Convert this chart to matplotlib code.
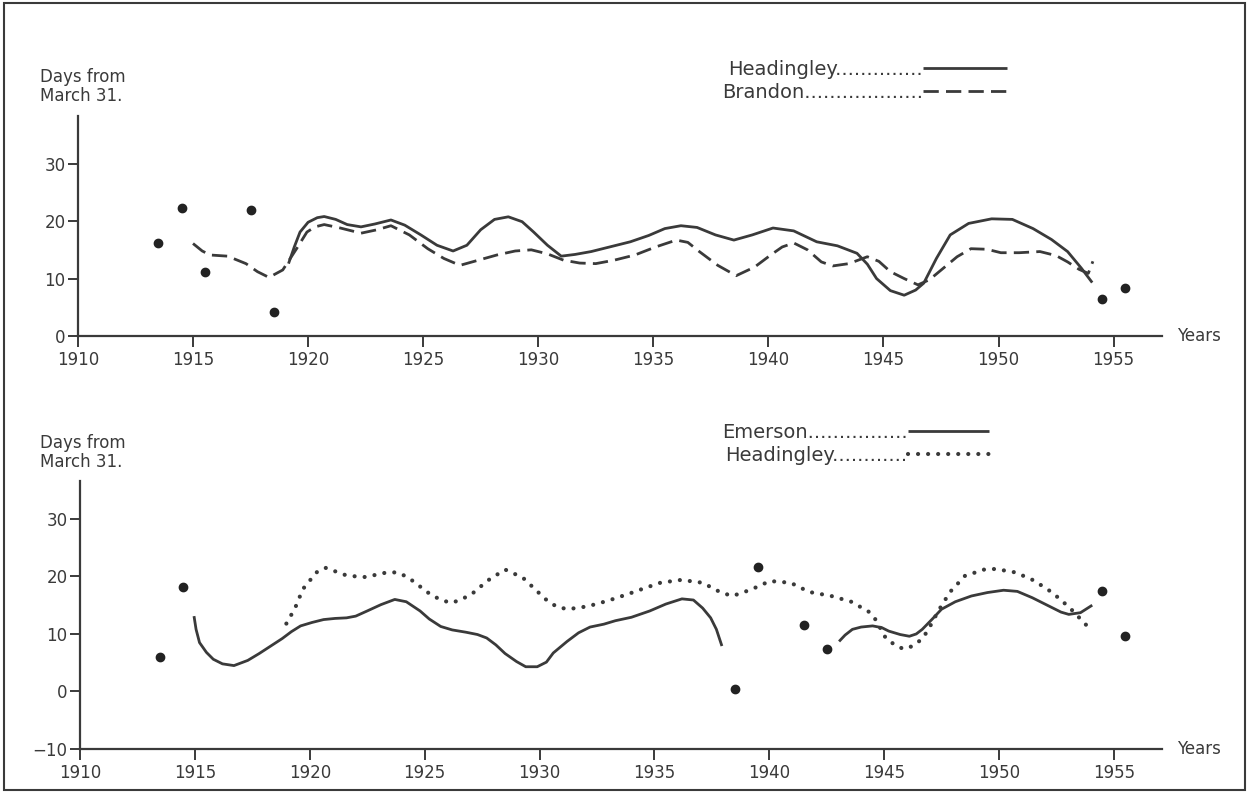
import matplotlib.pyplot as plt
from matplotlib.lines import Line2D
from matplotlib.patches import Rectangle

plt.rcParams['font.family'] = 'DejaVu Sans'
INK = '#3a3a3a'
DOT = '#222222'

# ---- upper panel: Headingley (solid) and Brandon (dashed) ----
hd_top_yr = [1919.15, 1919.4, 1919.65, 1920.0, 1920.4, 1920.7, 1921.2, 1921.7, 1922.3, 1922.9,
             1923.6, 1924.2, 1924.9, 1925.6, 1926.3, 1926.9, 1927.5, 1928.1, 1928.7, 1929.3,
             1929.8, 1930.4, 1931.0, 1931.6, 1932.3, 1933.1, 1934.0, 1934.8, 1935.5, 1936.2,
             1936.9, 1937.7, 1938.5, 1939.3, 1940.2, 1941.1, 1942.1, 1943.0, 1943.85, 1944.3,
             1944.7, 1945.3, 1945.9, 1946.4, 1946.75, 1947.3, 1947.9, 1948.7, 1949.7, 1950.6,
             1951.5, 1952.3, 1953.0, 1953.6, 1954.07]
hd_top_val = [12.6, 15.5, 18.1, 19.8, 20.6, 20.8, 20.3, 19.4, 19.0, 19.5,
              20.2, 19.3, 17.6, 15.8, 14.8, 15.8, 18.5, 20.3, 20.75, 19.9,
              18.1, 15.8, 13.9, 14.2, 14.7, 15.5, 16.4, 17.5, 18.7, 19.2,
              18.9, 17.6, 16.7, 17.6, 18.8, 18.3, 16.4, 15.7, 14.4, 12.5,
              10.0, 7.9, 7.1, 8.0, 9.2, 13.5, 17.6, 19.6, 20.4, 20.3,
              18.7, 16.8, 14.7, 11.8, 9.3]

br_yr = [1915.0, 1915.4, 1915.75, 1916.5, 1917.3, 1917.8, 1918.3, 1918.9, 1919.5, 1919.95,
         1920.3, 1920.7, 1921.4, 1922.3, 1923.0, 1923.6, 1924.4, 1925.2, 1925.9, 1926.6,
         1927.4, 1928.2, 1929.0, 1929.7, 1930.4, 1931.1, 1931.8, 1932.5, 1933.3, 1934.2,
         1935.1, 1936.0, 1936.5, 1937.0, 1937.8, 1938.6, 1939.4, 1940.1, 1940.6, 1941.1,
         1941.7, 1942.3, 1942.8, 1943.5, 1944.3, 1944.8, 1945.3, 1945.9, 1946.5, 1947.0,
         1947.6, 1948.2, 1948.8, 1949.5, 1950.1, 1950.9, 1951.8, 1952.5, 1953.0, 1953.5,
         1953.9, 1954.1]
br_val = [16.1, 14.8, 14.1, 13.9, 12.6, 11.2, 10.2, 11.5, 15.2, 18.1,
          19.0, 19.4, 18.8, 17.9, 18.5, 19.2, 17.6, 15.2, 13.5, 12.3,
          13.2, 14.1, 14.8, 15.0, 14.3, 13.2, 12.7, 12.6, 13.2, 14.1,
          15.5, 16.7, 16.3, 14.7, 12.3, 10.5, 12.0, 14.1, 15.5, 16.2,
          15.0, 12.9, 12.2, 12.6, 13.8, 13.0, 11.2, 10.0, 8.9, 9.8,
          11.8, 13.8, 15.2, 15.1, 14.5, 14.5, 14.7, 14.0, 12.9, 11.6,
          10.9, 13.0]

top_pts_yr = [1913.5, 1914.5, 1915.5, 1917.5, 1918.5, 1954.5, 1955.5]
top_pts_val = [16.2, 22.3, 11.1, 21.9, 4.2, 6.4, 8.3]

# ---- lower panel: Emerson (solid, two pieces) and Headingley (dotted) ----
em1_yr = [1914.96, 1915.05, 1915.2, 1915.5, 1915.8, 1916.2, 1916.7, 1917.3, 1917.8, 1918.3,
          1918.8, 1919.2, 1919.6, 1920.1, 1920.6, 1921.1, 1921.6, 1922.0, 1922.5, 1923.1,
          1923.7, 1924.2, 1924.8, 1925.2, 1925.7, 1926.2, 1926.8, 1927.3, 1927.7, 1928.1,
          1928.5, 1929.0, 1929.4, 1929.9, 1930.3, 1930.6, 1931.2, 1931.7, 1932.2, 1932.8,
          1933.3, 1934.0, 1934.8, 1935.5, 1936.2, 1936.7, 1937.1, 1937.45, 1937.7, 1937.94]
em1_val = [13.1, 10.8, 8.5, 6.8, 5.6, 4.8, 4.5, 5.4, 6.6, 7.9,
           9.2, 10.4, 11.4, 12.0, 12.5, 12.7, 12.8, 13.1, 14.0, 15.1,
           16.0, 15.6, 14.0, 12.6, 11.3, 10.7, 10.3, 9.9, 9.3, 8.1,
           6.6, 5.2, 4.3, 4.3, 5.1, 6.7, 8.7, 10.2, 11.2, 11.7,
           12.3, 12.9, 14.0, 15.2, 16.1, 15.9, 14.5, 12.8, 10.8, 7.9]

em2_yr = [1943.04, 1943.3, 1943.62, 1944.0, 1944.5, 1944.9, 1945.2, 1945.7, 1946.1, 1946.4,
          1946.66, 1947.1, 1947.5, 1948.1, 1948.8, 1949.5, 1950.2, 1950.8, 1951.45, 1951.9,
          1952.3, 1952.7, 1953.04, 1953.55, 1954.06]
em2_val = [8.7, 9.8, 10.8, 11.2, 11.4, 11.1, 10.5, 9.9, 9.6, 10.0,
           10.8, 12.6, 14.3, 15.6, 16.6, 17.2, 17.6, 17.4, 16.3, 15.4,
           14.6, 13.8, 13.4, 13.7, 15.0]

hd_bot_yr = [1918.98, 1919.36, 1919.7, 1920.29, 1920.68, 1921.1, 1921.5, 1922.0, 1922.4, 1922.9,
             1923.36, 1923.8, 1924.2, 1924.6, 1925.0, 1925.36, 1925.8, 1926.17, 1926.6, 1927.07,
             1927.75, 1928.5, 1929.27, 1929.93, 1930.36, 1930.77, 1931.23, 1932.1, 1933.0, 1933.9,
             1934.6, 1935.26, 1936.17, 1937.1, 1937.9, 1938.4, 1939.2, 1940.03, 1940.93, 1941.74,
             1942.7, 1943.57, 1944.32, 1944.63, 1945.07, 1945.43, 1945.83, 1946.26, 1946.67, 1946.93,
             1947.36, 1947.87, 1948.52, 1949.36, 1949.85, 1950.72, 1951.52, 1952.32, 1953.07, 1953.67,
             1954.0]
hd_bot_val = [11.8, 14.5, 17.8, 20.7, 21.5, 20.9, 20.3, 20.0, 19.9, 20.3,
              20.7, 20.7, 20.0, 18.9, 17.6, 16.6, 15.8, 15.4, 16.0, 17.0,
              19.3, 21.2, 19.8, 17.3, 15.7, 14.7, 14.3, 14.8, 15.8, 17.0,
              18.0, 18.9, 19.4, 18.9, 17.2, 16.6, 17.7, 19.2, 18.9, 17.3,
              16.6, 15.6, 13.9, 12.5, 9.3, 8.2, 7.4, 7.9, 9.2, 10.8,
              14.0, 17.3, 20.1, 21.2, 21.3, 20.7, 19.3, 17.2, 14.6, 12.1,
              10.7]

bot_pts_yr = [1913.5, 1914.5, 1938.5, 1939.5, 1941.5, 1942.5, 1954.5, 1955.5]
bot_pts_val = [6.0, 18.2, 0.35, 21.7, 11.5, 7.3, 17.4, 9.6]

xticks = list(range(1910, 1956, 5))

SOLID = dict(color=INK, lw=2.0, solid_capstyle='butt', solid_joinstyle='round')
DASHED = dict(color=INK, lw=2.0, linestyle=(0, (5.5, 2.6)), dash_capstyle='butt')
DOTTED = dict(color=INK, lw=3.0, linestyle=(0, (0.01, 2.4)), dash_capstyle='round')

fig = plt.figure(figsize=(12.49, 7.93), dpi=100)
ax1 = fig.add_axes([0.0624, 0.5763, 0.8679, 0.2774])
ax2 = fig.add_axes([0.0641, 0.0555, 0.8663, 0.3380])


def style(ax, ylo, yhi, yticks):
    ax.set_xlim(1910, 1957.1)
    ax.set_ylim(ylo, yhi)
    ax.spines['top'].set_visible(False)
    ax.spines['right'].set_visible(False)
    for s in ['left', 'bottom']:
        ax.spines[s].set_color(INK)
        ax.spines[s].set_linewidth(1.6)
    ax.set_xticks(xticks)
    ax.set_yticks(yticks)
    ax.tick_params(axis='x', direction='out', length=8, width=1.4, pad=3, labelsize=12, colors=INK)
    ax.tick_params(axis='y', direction='out', length=7, width=1.4, pad=2, labelsize=12, colors=INK)
    ax.patch.set_visible(False)
    ax.annotate('Years', xy=(1, 0), xycoords='axes fraction', xytext=(15, 0),
                textcoords='offset pixels', va='center', ha='left', fontsize=12, color=INK)


style(ax1, 0, 38.3, [0, 10, 20, 30])
style(ax2, -10, 36.6, [-10, 0, 10, 20, 30])

ax1.plot(hd_top_yr, hd_top_val, **SOLID)
ax1.plot(br_yr, br_val, **DASHED)
ax1.plot(top_pts_yr, top_pts_val, 'o', color=DOT, ms=6, ls='none')

ax2.plot(em1_yr, em1_val, **SOLID)
ax2.plot(em2_yr, em2_val, **SOLID)
ax2.plot(hd_bot_yr, hd_bot_val, **DOTTED)
ax2.plot(bot_pts_yr, bot_pts_val, 'o', color=DOT, ms=6, ls='none')

# legends: label with leader dots, sample line after it
leg_kw = dict(loc='upper left', bbox_transform=fig.transFigure, frameon=False, markerfirst=False,
              handletextpad=0.0, labelspacing=0.2, borderpad=0, borderaxespad=0,
              prop={'size': 14}, labelcolor=INK)
ax1.legend([Line2D([], [], **SOLID), Line2D([], [], **DASHED)],
           ['Headingley' + '.' * 14, 'Brandon' + '.' * 19],
           bbox_to_anchor=(722 / 1249, 1 - 60 / 793), handlelength=4.3, **leg_kw)
ax2.legend([Line2D([], [], **SOLID), Line2D([], [], **DOTTED)],
           ['Emerson' + '.' * 16, 'Headingley' + '.' * 12],
           bbox_to_anchor=(722 / 1249, 1 - 423 / 793), handlelength=4.2, **leg_kw)

fig.text(40 / 1249, 1 - 68 / 793, 'Days from\nMarch 31.', fontsize=12, color=INK,
         va='top', ha='left', linespacing=1.05)
fig.text(40 / 1249, 1 - 434 / 793, 'Days from\nMarch 31.', fontsize=12, color=INK,
         va='top', ha='left', linespacing=1.05)

fig.patches.append(Rectangle((0.003, 0.004), 0.994, 0.992, transform=fig.transFigure,
                             fill=False, lw=1.5, edgecolor=INK))

fig.savefig('out.png', dpi=100)
